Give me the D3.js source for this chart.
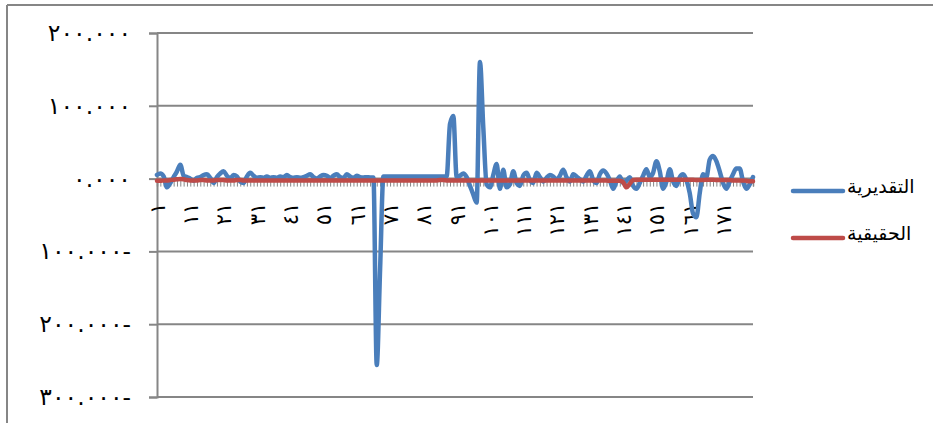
<!DOCTYPE html>
<html>
<head>
<meta charset="utf-8">
<script src="https://cdn.jsdelivr.net/npm/d3@7"></script>
<style>
  body { margin: 0; background: #fff; }
  svg { display: block; }
</style>
</head>
<body>
<div id="chart"></div>
<script>
// values in thousands (axis shows ٢٠٠.٠٠٠ ... ٣٠٠.٠٠٠-)
const categories = d3.range(1, 181);

const estimated = [
  5, 7, 3, -12, -6, 2, 10, 19, 4, 2,
  0, -3, 1, 2, 5, 6, 1, -6, 2, 7,
  10, 4, 0, 5, 3, -4, -6, 3, 8, 4,
  1, 2, 1, 3, 1, 2, 1, 3, 2, 5,
  2, 1, 2, 1, 2, 4, 6, 2, 0, 3,
  5, 4, 1, 4, 6, 2, 1, 6, 3, 1,
  4, 2, 1.5, 2, 1.5, 1.5, -256, -125, 3, 3,
  3, 3, 3, 3, 3, 3, 3, 3, 3, 3,
  3, 3, 3, 3, 3, 3, 3, 3, 75, 86,
  2, 4, 7, 2, -10, -22, -33, 160, 70, -8,
  -12, 5, 20, -14, 12, -12, -8, 10, -6, -10,
  4, 8, -2, -6, 8, 2, -4, 1, 5, 3,
  -2, 4, 12, 2, -4, 6, 3, -1, -4, 4,
  10, -2, -6, 6, 11, 7, -2, -14, -4, 3,
  -6, -3, 2, -10, -14, -6, 4, 13, 2, 8,
  24, 10, -14, -4, 13, -4, -10, 2, 6, -2,
  -20, -48, -53, -20, 6, 2, 26, 31, 24, 10,
  -6, -14, -4, 6, 14, 14, -4, -14, -8, 2
];

const actual = [
  -3, -3, -2.5, -2.5, -2, -1.5, -1, -0.5, -1, -2,
  -2.5, -2.5, -2.5, -2, -2, -2.5, -2.5, -2.5, -2, -2,
  -2, -2.5, -2.5, -2.5, -2, -2, -2.5, -2.5, -2.5, -2.5,
  -2.7, -2.7, -2.7, -2.7, -2.7, -2.7, -2.7, -2.7, -2.7, -2.7,
  -2.7, -2.7, -2.7, -2.7, -2.7, -2.7, -2.7, -2.7, -2.7, -2.7,
  -2.7, -2.7, -2.7, -2.7, -2.7, -2.7, -2.7, -2.7, -2.7, -2.7,
  -2.7, -2.7, -2.7, -2.7, -2.7, -2.7, -2.7, -2.7, -2.7, -2.7,
  -2.7, -2.7, -2.7, -2.7, -2.7, -2.7, -2.7, -2.7, -2.7, -2.7,
  -2.7, -2.7, -2.7, -2.7, -2.5, -2, -2, -2.5, -2.7, -2.7,
  -2.7, -2.7, -2.7, -2.7, -2.7, -2.7, -2.7, -2.7, -2.7, -2.7,
  -2.7, -2.7, -2.7, -2.7, -2.7, -2.7, -2.7, -2.7, -2.7, -2.7,
  -2.7, -2.7, -2.7, -2.7, -2.7, -2.7, -2.7, -2.7, -2.7, -2.7,
  -2.7, -2.7, -2.7, -2.7, -2.7, -2.7, -2.7, -2.7, -2.7, -2.7,
  -2.7, -2.7, -2.7, -2.7, -2.7, -2.7, -3, -3, -3, -3,
  -5, -12, -7, -2, -1.5, -1.5, -1.5, -1.5, -1.5, -1.5,
  -1.5, -1.5, -1.5, -1.5, -1.5, -1.5, -1.5, -1.5, -1.5, -1.5,
  -1.5, -1.5, -2, -2, -2, -1.5, -1.5, -1.5, -2, -2,
  -2, -2, -2, -2.5, -2.5, -2.5, -2.5, -3, -3.5, -3.5
];

const yTicks = [200, 100, 0, -100, -200, -300];
const seriesNames = ["التقديرية", "الحقيقية"];
const seriesColors = ["#4A7EBB", "#BE4B48"];

const width = 933, height = 423;
const plot = { left: 157, right: 753, top: 33, bottom: 397 };
const font = "'DejaVu Sans', sans-serif";
const grey = "#868686";

// western digits -> arabic-indic, minus sign goes to the right end like the original
const arabicDigits = "٠١٢٣٤٥٦٧٨٩";
const toArabic = s => String(s).replace(/[0-9]/g, d => arabicDigits[+d]);
const yFormat = v => "\u202D" + toArabic(Math.abs(v).toFixed(3)) + (v < 0 ? "-" : "") + "\u202C";

const svg = d3.select("#chart").append("svg")
  .attr("width", width).attr("height", height);

// chart frame (only left and top edges are inside the picture)
svg.append("line").attr("x1", 7).attr("x2", 7).attr("y1", 5).attr("y2", height)
  .attr("stroke", grey).attr("stroke-width", 2);
svg.append("line").attr("x1", 7).attr("x2", width).attr("y1", 5).attr("y2", 5)
  .attr("stroke", grey).attr("stroke-width", 2);

const x = d3.scalePoint().domain(categories).range([plot.left, plot.right]);
const y = d3.scaleLinear().domain([-300, 200]).range([plot.bottom, plot.top]);

// gridlines + y axis
const yAxisG = svg.append("g").attr("transform", `translate(${plot.left},0)`)
  .call(d3.axisLeft(y).tickValues(yTicks).tickSize(8).tickPadding(18).tickFormat(yFormat));
yAxisG.select(".domain").attr("stroke", grey).attr("stroke-width", 2);
yAxisG.selectAll(".tick line").attr("stroke", grey).attr("stroke-width", 2);
yAxisG.selectAll(".tick text")
  .attr("fill", "#000").style("font-family", font).style("font-size", "23.5px");

svg.append("g").selectAll("line").data(yTicks).join("line")
  .attr("x1", plot.left).attr("x2", plot.right)
  .attr("y1", d => y(d)).attr("y2", d => y(d))
  .attr("stroke", grey).attr("stroke-width", 2);

// category axis crosses at zero, labels every 10th category, rotated
const xAxisG = svg.append("g").attr("transform", `translate(0,${y(0)})`)
  .call(d3.axisBottom(x).tickSize(8)
    .tickFormat(d => (d - 1) % 10 === 0 ? toArabic(d) : ""));
xAxisG.select(".domain").attr("stroke", grey).attr("stroke-width", 1.5);
xAxisG.selectAll(".tick line").attr("stroke", grey).attr("stroke-width", 1);
xAxisG.selectAll(".tick text")
  .attr("transform", "rotate(-90)")
  .attr("text-anchor", "end")
  .attr("x", -24).attr("y", 0).attr("dy", "0.35em")
  .attr("fill", "#000").style("font-family", font).style("font-size", "21px");

// series, red drawn above blue
const line = d3.line().curve(d3.curveMonotoneX)
  .x((d, i) => x(categories[i])).y(d => y(d));
[estimated, actual].forEach((vals, k) => {
  svg.append("path").datum(vals)
    .attr("d", line)
    .attr("fill", "none")
    .attr("stroke", seriesColors[k])
    .attr("stroke-width", 4.5)
    .attr("stroke-linejoin", "round")
    .attr("stroke-linecap", "round");
});

// legend
const legend = svg.append("g");
seriesNames.forEach((name, k) => {
  const ly = 191 + k * 47;
  legend.append("line").attr("x1", 793).attr("x2", 843).attr("y1", ly).attr("y2", ly)
    .attr("stroke", seriesColors[k]).attr("stroke-width", 4.5).attr("stroke-linecap", "round");
  legend.append("text").attr("x", 847).attr("y", ly).attr("dy", "0.1em")
    .attr("fill", "#000").style("font-family", font).style("font-size", "19px")
    .text(name);
});
</script>
</body>
</html>
